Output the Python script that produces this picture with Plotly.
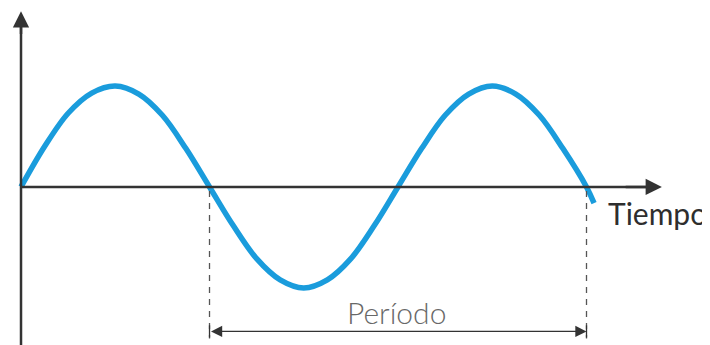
import plotly.graph_objects as go

# Wave samples: time in periods, amplitude in peak units
t_vals = [0.0, 0.0625, 0.125, 0.1875, 0.25, 0.3125, 0.375, 0.4375, 0.5,
          0.5625, 0.625, 0.6875, 0.75, 0.8125, 0.875, 0.9375, 1.0,
          1.0625, 1.125, 1.1875, 1.25, 1.3125, 1.375, 1.4375, 1.5, 1.52]
amp_vals = [0.0, 0.40, 0.73, 0.93, 1.0, 0.92, 0.71, 0.38, 0.0,
            -0.38, -0.71, -0.92, -1.0, -0.92, -0.71, -0.38, 0.0,
            0.38, 0.71, 0.92, 1.0, 0.92, 0.71, 0.38, 0.0, -0.16]

period_start = 0.5
period_end = 1.5
x_label = "Tiempo"
period_label = "Período"

AX = "#333333"
fig = go.Figure()

fig.add_trace(go.Scatter(x=t_vals, y=amp_vals, mode="lines",
                         line=dict(color="#1a9cdc", width=5.5, shape="spline", smoothing=1.0),
                         hoverinfo="skip", showlegend=False))

shapes = []
# dashed period markers
for tx in (period_start, period_end):
    shapes.append(dict(type="line", xref="x", yref="y", x0=tx, x1=tx, y0=-0.04, y1=-1.50,
                       line=dict(color="#555555", width=1.3, dash="6px,6px")))
    # small end bars of the period arrow
    shapes.append(dict(type="line", xref="x", yref="y", x0=tx, x1=tx, y0=-1.37, y1=-1.49,
                       line=dict(color=AX, width=1.3)))
# axes lines
shapes.append(dict(type="line", xref="x", yref="y", x0=0, x1=0, y0=-1.7, y1=1.6,
                   line=dict(color=AX, width=2.5)))
shapes.append(dict(type="line", xref="x", yref="y", x0=0, x1=1.66, y0=0, y1=0,
                   line=dict(color=AX, width=2.5)))

annotations = [
    # vertical axis arrowhead
    dict(x=0, y=1.74, ax=0, ay=1.5, xref="x", yref="y", axref="x", ayref="y",
         text="", showarrow=True, arrowhead=2, arrowsize=1.3, arrowwidth=2.5, arrowcolor=AX),
    # horizontal axis arrowhead
    dict(x=1.70, y=0, ax=1.6, ay=0, xref="x", yref="y", axref="x", ayref="y",
         text="", showarrow=True, arrowhead=2, arrowsize=1.3, arrowwidth=2.5, arrowcolor=AX),
    # period double arrow
    dict(x=period_end, y=-1.43, ax=period_start, ay=-1.43, xref="x", yref="y",
         axref="x", ayref="y", text="", showarrow=True, arrowhead=2, startarrowhead=2,
         arrowside="end+start", arrowsize=1.6, startarrowsize=1.6, arrowwidth=1.4,
         arrowcolor=AX),
    dict(x=1.553, y=-0.26, xref="x", yref="y", text=x_label, showarrow=False,
         xanchor="left", yanchor="middle",
         font=dict(family="Lato", size=30, color="#2e2e2e")),
    dict(x=(period_start + period_end) / 2 - 0.005, y=-1.24, xref="x", yref="y",
         text=period_label, showarrow=False, xanchor="center", yanchor="middle",
         font=dict(family="Lato", size=30, color="#686868", weight=300)),
]

fig.update_layout(
    width=710, height=345,
    margin=dict(l=0, r=0, t=0, b=0),
    paper_bgcolor="white", plot_bgcolor="white",
    xaxis=dict(range=[-0.0345, 1.8488], visible=False, showgrid=False, zeroline=False),
    yaxis=dict(range=[-1.644, 1.772], visible=False, showgrid=False, zeroline=False),
    shapes=shapes, annotations=annotations,
)

fig.write_html("out.html")
